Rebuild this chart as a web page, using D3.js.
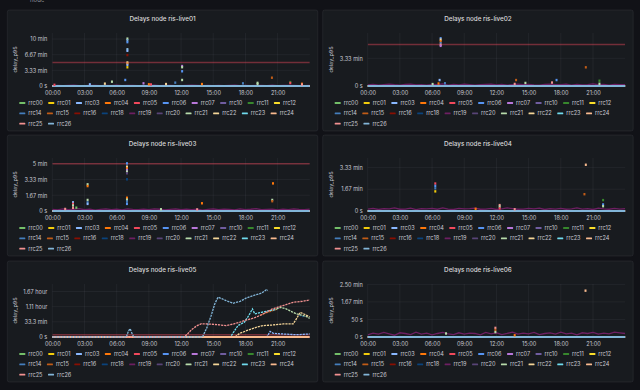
<!DOCTYPE html>
<html>
<head>
<meta charset="utf-8">
<script src="https://cdn.jsdelivr.net/npm/d3@7"></script>
<style>
  html, body { margin: 0; padding: 0; background: #111217; }
  svg { display: block; font-family: Inter, "Noto Sans", sans-serif; }
</style>
</head>
<body>
<div id="dash"></div>
<script>
// Delays (p95) per RRC collector, one Grafana-like panel per ris-live node

var seriesNames = ["rrc00", "rrc01", "rrc03", "rrc04", "rrc05", "rrc06", "rrc07", "rrc10", "rrc11", "rrc12",
  "rrc14", "rrc15", "rrc16", "rrc18", "rrc19", "rrc20", "rrc21", "rrc22", "rrc23", "rrc24", "rrc25", "rrc26"];
var seriesColors = ["#73BF69", "#F2CC0C", "#8AB8FF", "#FF780A", "#F2495C", "#5794F2", "#B877D9", "#705DA0", "#37872D", "#FADE2A",
  "#447EBC", "#C15C17", "#890F02", "#0A437C", "#6D1F62", "#584477", "#B7DBAB", "#F4D598", "#70DBED", "#F9BA8F", "#F29191", "#82B5D8"];

var panelTitles = ["Delays node ris-live01", "Delays node ris-live02", "Delays node ris-live03",
  "Delays node ris-live04", "Delays node ris-live05", "Delays node ris-live06"];

var xTickHours = [0, 3, 6, 9, 12, 15, 18, 21];
var xTickLabels = ["00:00", "03:00", "06:00", "09:00", "12:00", "15:00", "18:00", "21:00"];

// y ticks (seconds) and their labels, per panel
var yTicks1 = [0, 200, 400, 600];
var yTickLabels1 = ["0 s", "3.33 min", "6.67 min", "10 min"];
var yTicks2 = [0, 200];
var yTickLabels2 = ["0 s", "3.33 min"];
var yTicks3 = [0, 100, 200, 300];
var yTickLabels3 = ["0 s", "1.67 min", "3.33 min", "5 min"];
var yTicks4 = [0, 100, 200];
var yTickLabels4 = ["0 s", "1.67 min", "3.33 min"];
var yTicks5 = [0, 2000, 4000, 6000];
var yTickLabels5 = ["0 s", "33.3 min", "1.11 hour", "1.67 hour"];
var yTicks6 = [0, 50, 100, 150];
var yTickLabels6 = ["0 s", "50 s", "1.67 min", "2.50 min"];

// threshold (seconds)
var threshold = 300;

// series that stay at zero all day
var zeroHours = [0, 24];

// rrc19 jitter, every 30 minutes (seconds)
var noise1 = [5, 8, 4, 7, 10, 6, 5, 9, 7, 4, 8, 6, 10, 5, 7, 9, 4, 6, 8, 11, 5, 7, 9, 6, 4, 8, 10, 7, 5, 9, 6, 8, 4, 7, 10, 6, 8, 5, 9, 7, 6, 10, 4, 8, 7, 9, 5, 6, 8];
var noise2 = [8, 12, 6, 10, 14, 9, 7, 11, 13, 8, 10, 6, 12, 9, 15, 7, 11, 8, 13, 10, 6, 9, 12, 14, 8, 11, 7, 10, 13, 9, 12, 8, 6, 11, 14, 10, 9, 13, 7, 12, 8, 10, 15, 9, 11, 7, 12, 10, 9];
var noise3 = [10, 7, 13, 9, 11, 15, 8, 12, 6, 10, 14, 9, 11, 7, 13, 10, 8, 12, 9, 14, 11, 7, 10, 13, 8, 12, 9, 11, 6, 10, 14, 8, 12, 10, 7, 13, 9, 11, 15, 8, 10, 12, 7, 11, 9, 13, 10, 8, 12];
var noise4 = [9, 12, 7, 11, 10, 14, 8, 9, 13, 6, 11, 10, 12, 8, 14, 9, 7, 12, 10, 11, 13, 8, 9, 12, 7, 10, 14, 11, 8, 9, 12, 10, 13, 7, 11, 9, 12, 8, 10, 14, 9, 11, 7, 13, 10, 8, 12, 9, 11];
var noise6 = [6, 11, 8, 13, 9, 5, 12, 10, 7, 14, 8, 11, 6, 10, 13, 9, 7, 12, 8, 11, 10, 6, 13, 9, 12, 7, 10, 14, 8, 11, 9, 13, 7, 10, 12, 8, 14, 9, 11, 6, 12, 10, 13, 8, 11, 9, 14, 12, 10];

// isolated samples: [hour, seconds, collector]
var spikes1 = [[0.2, 15, "rrc05"], [3.5, 21, "rrc03"], [4.9, 30, "rrc22"], [5.56, 55, "rrc21"], [6.8, 77, "rrc06"],
  [7.0, 605, "rrc21"], [7.0, 585, "rrc26"], [7.0, 560, "rrc06"], [7.0, 470, "rrc26"], [7.0, 450, "rrc03"],
  [7.0, 395, "rrc16"], [7.0, 300, "rrc22"], [7.0, 285, "rrc04"], [7.0, 270, "rrc03"], [7.0, 239, "rrc01"],
  [8.5, 34, "rrc07"], [9.0, 22, "rrc04"], [9.2, 20, "rrc05"], [10.6, 25, "rrc22"], [11.46, 43, "rrc14"],
  [12.1, 255, "rrc07"], [12.1, 240, "rrc21"], [12.1, 188, "rrc06"], [12.1, 77, "rrc21"],
  [13.95, 25, "rrc04"], [17.77, 34, "rrc14"], [19.13, 40, "rrc21"], [19.13, 25, "rrc21"], [20.47, 106, "rrc15"],
  [22.18, 50, "rrc11"], [22.18, 38, "rrc05"], [23.27, 28, "rrc04"], [23.27, 18, "rrc25"]];
var spikes2 = [[6.8, 345, "rrc06"], [6.8, 335, "rrc22"], [6.8, 322, "rrc04"], [6.8, 310, "rrc14"], [6.8, 298, "rrc25"],
  [6.8, 290, "rrc07"], [6.7, 43, "rrc03"], [6.6, 18, "rrc04"], [6.05, 14, "rrc21"], [7.2, 20, "rrc14"],
  [13.83, 43, "rrc15"], [13.7, 15, "rrc25"], [14.7, 22, "rrc21"], [17.18, 25, "rrc25"], [17.6, 43, "rrc06"],
  [20.33, 135, "rrc15"], [21.6, 38, "rrc11"], [21.6, 16, "rrc21"]];
var spikes3 = [[1.2, 13, "rrc25"], [1.93, 55, "rrc03"], [1.93, 45, "rrc05"], [1.93, 35, "rrc21"], [1.93, 20, "rrc25"],
  [2.24, 21, "rrc00"], [3.29, 169, "rrc21"], [3.29, 158, "rrc04"], [3.29, 70, "rrc21"], [3.29, 55, "rrc14"],
  [3.29, 45, "rrc03"], [6.96, 302, "rrc06"], [6.96, 281, "rrc22"], [6.96, 270, "rrc04"], [6.96, 260, "rrc07"],
  [6.96, 249, "rrc21"], [6.96, 239, "rrc20"], [6.96, 201, "rrc18"], [6.96, 84, "rrc04"], [6.96, 72, "rrc21"],
  [6.96, 60, "rrc14"], [6.96, 45, "rrc06"], [10.13, 11, "rrc21"], [13.5, 10, "rrc25"], [13.95, 49, "rrc04"],
  [20.57, 175, "rrc04"], [20.5, 70, "rrc21"], [20.5, 62, "rrc15"]];
var spikes4 = [[6.3, 126, "rrc05"], [6.3, 115, "rrc06"], [6.3, 104, "rrc14"], [6.3, 90, "rrc01"],
  [10.06, 10, "rrc04"], [12.3, 27, "rrc25"], [12.3, 20, "rrc21"], [12.3, 12, "rrc05"], [13.7, 8, "rrc25"],
  [20.33, 212, "rrc24"], [20.2, 77, "rrc15"], [21.94, 50, "rrc11"], [21.94, 30, "rrc06"], [21.94, 22, "rrc21"]];
var spikes5 = [];
var spikes6 = [[7.3, 10, "rrc21"], [11.9, 26, "rrc25"], [11.9, 20, "rrc15"], [11.9, 14, "rrc21"],
  [13.7, 5, "rrc04"], [20.3, 132, "rrc24"]];

// ris-live05 collectors that drift away: [hour, seconds]
var p5_rrc03 = [[0, 0], [20.0, 0], [20.3, 740], [20.6, 480], [21.5, 400], [22.75, 300], [24, 400]];
var p5_rrc15 = [[19.4, 2900], [20.0, 3200], [20.6, 3500], [21.0, 3700]];
var p5_rrc18 = [[23.0, 2900], [23.3, 2700], [23.6, 2750]];
var p5_rrc21 = [[20.9, 3700], [21.3, 3900], [21.8, 3700], [22.3, 3350], [22.75, 3050], [23.2, 2900], [23.7, 2690], [24, 2450]];
var p5_rrc22 = [[0, 0], [17.0, 0], [17.47, 480], [18.1, 830], [19.0, 1270], [19.65, 1500], [20.6, 1590],
  [21.5, 1720], [22.45, 1720], [22.8, 2500], [23.1, 3250], [23.5, 3000], [24, 2650]];
var p5_rrc23 = [[0, 0], [16.6, 0], [17.3, 1500], [17.9, 1950], [18.3, 2800], [18.65, 3700], [18.87, 3050],
  [19.5, 3260], [20.3, 3480], [20.9, 3650]];
var p5_rrc25 = [[0, 0], [12.3, 0], [12.6, 400], [13.0, 1000], [13.5, 1500], [13.9, 1750], [14.7, 1700],
  [15.6, 1600], [16.2, 1500], [16.85, 1700], [17.5, 1950], [18.1, 2250], [18.8, 2500], [19.6, 3000],
  [20.5, 3700], [21.5, 4150], [22.45, 4580], [23.4, 4720], [24, 4900]];
var p5_rrc26 = [[0, 0], [6.9, 0], [7.1, 800], [7.25, 1100], [7.45, 400], [7.6, 0], [14.0, 0], [14.4, 1200],
  [14.8, 2800], [15.15, 4400], [15.45, 5250], [15.8, 5050], [16.2, 4800], [16.85, 4450], [17.5, 4700],
  [18.1, 5150], [18.7, 5450], [19.5, 5780], [19.95, 6220], [20.1, 6150]];

// Layout
var width = 640, height = 390;
var colX = [7.3, 322.7];
var rowY = [10, 135, 261];
var panelW = 310.5, panelH = 121;
var plotLeft = 45, plotRight = 302.5, plotTop = 23, plotBottom = 76;

var panels = [
  { ticks: yTicks1, labels: yTickLabels1, yMax: 677, noise: noise1, spikes: spikes1, lines: {} },
  { ticks: yTicks2, labels: yTickLabels2, yMax: 383, noise: noise2, spikes: spikes2, lines: {} },
  { ticks: yTicks3, labels: yTickLabels3, yMax: 336, noise: noise3, spikes: spikes3, lines: {} },
  { ticks: yTicks4, labels: yTickLabels4, yMax: 243, noise: noise4, spikes: spikes4, lines: {} },
  { ticks: yTicks5, labels: yTickLabels5, yMax: 6990, noise: null, spikes: spikes5,
    lines: { rrc03: p5_rrc03, rrc15: p5_rrc15, rrc18: p5_rrc18, rrc21: p5_rrc21, rrc22: p5_rrc22,
             rrc23: p5_rrc23, rrc25: p5_rrc25, rrc26: p5_rrc26 } },
  { ticks: yTicks6, labels: yTickLabels6, yMax: 151, noise: noise6, spikes: spikes6, lines: {} }
];

var color = d3.scaleOrdinal().domain(seriesNames).range(seriesColors);

var svg = d3.select("#dash").append("svg")
  .attr("width", width)
  .attr("height", height);

svg.append("rect").attr("width", width).attr("height", height).attr("fill", "#111217");

// variable label above the panels, mostly scrolled out of view
svg.append("text").attr("x", 30).attr("y", 2)
  .attr("font-size", 6).attr("fill", "#8e9099").text("node");

panels.forEach(function(p, i) {
  var px = colX[i % 2], py = rowY[Math.floor(i / 2)];
  var g = svg.append("g").attr("transform", "translate(" + px + "," + py + ")");

  g.append("rect")
    .attr("width", panelW).attr("height", panelH)
    .attr("rx", 2)
    .attr("fill", "#181b1f")
    .attr("stroke", "rgba(204,204,220,0.08)");

  g.append("text")
    .attr("x", panelW / 2).attr("y", 9)
    .attr("dy", "0.35em")
    .attr("text-anchor", "middle")
    .attr("font-size", 6.3).attr("font-weight", 500)
    .attr("fill", "#d8d9da")
    .text(panelTitles[i]);

  var x = d3.scaleLinear().domain([0, 24]).range([plotLeft, plotRight]);
  var y = d3.scaleLinear().domain([0, p.yMax]).range([plotBottom, plotTop]);

  // grid
  g.append("g").selectAll("line").data(xTickHours).join("line")
    .attr("x1", function(d) { return x(d); }).attr("x2", function(d) { return x(d); })
    .attr("y1", plotTop).attr("y2", plotBottom)
    .attr("stroke", "rgba(204,204,220,0.06)");
  g.append("g").selectAll("line").data(p.ticks).join("line")
    .attr("x1", plotLeft).attr("x2", plotRight)
    .attr("y1", function(d) { return y(d); }).attr("y2", function(d) { return y(d); })
    .attr("stroke", "rgba(204,204,220,0.06)");

  // axes
  var xAxis = d3.axisBottom(x).tickValues(xTickHours)
    .tickFormat(function(d, k) { return xTickLabels[k]; }).tickSize(0).tickPadding(0);
  var xg = g.append("g").attr("transform", "translate(0," + (plotBottom + 7.5) + ")").call(xAxis);
  var yAxis = d3.axisLeft(y).tickValues(p.ticks)
    .tickFormat(function(d, k) { return p.labels[k]; }).tickSize(0).tickPadding(0);
  var yg = g.append("g").attr("transform", "translate(" + 40 + ",0)").call(yAxis);
  [xg, yg].forEach(function(a) {
    a.select(".domain").remove();
    a.selectAll("text").attr("font-size", 5.6).attr("fill", "#c7c8d1")
      .attr("font-family", "Inter, 'Noto Sans', sans-serif");
  });
  xg.selectAll("text").attr("dy", "0.35em").attr("y", 0);

  g.append("text")
    .attr("transform", "translate(8," + ((plotTop + plotBottom) / 2) + ") rotate(-90)")
    .attr("text-anchor", "middle").attr("dy", "0.35em")
    .attr("font-size", 5.4).attr("fill", "#c7c8d1")
    .text("delay_p95");

  var clipId = "clip" + i;
  g.append("clipPath").attr("id", clipId).append("rect")
    .attr("x", plotLeft).attr("y", plotTop - 1.5)
    .attr("width", plotRight - plotLeft).attr("height", plotBottom - plotTop + 3);
  var plot = g.append("g").attr("clip-path", "url(#" + clipId + ")");

  // threshold
  if (threshold < p.yMax) {
    plot.append("line")
      .attr("x1", plotLeft).attr("x2", plotRight)
      .attr("y1", y(threshold)).attr("y2", y(threshold))
      .attr("stroke", "rgba(242,73,92,0.42)").attr("stroke-width", 1.5);
  }

  var line = d3.line()
    .defined(function(d) { return d[1] !== null; })
    .x(function(d) { return x(d[0]); })
    .y(function(d) { return y(d[1]); });

  // jitter band first, so the zero lines sit on top of its lower edge
  var jitterLayer = plot.append("g");
  var lineLayer = plot.append("g");

  seriesNames.forEach(function(name) {
    var data, moving = false, jitter = false;
    if (p.lines[name]) {
      data = p.lines[name];
      moving = true;
    } else if (name === "rrc19" && p.noise) {
      data = p.noise.map(function(v, k) { return [k * 0.5, v]; });
      jitter = true;
    } else {
      data = zeroHours.map(function(h) { return [h, 0]; });
    }
    var path = (jitter ? jitterLayer : lineLayer).append("path")
      .datum(data)
      .attr("d", line)
      .attr("fill", "none")
      .attr("stroke", color(name))
      .attr("stroke-width", moving || jitter ? 1.3 : 2);
    if (moving) path.attr("stroke-dasharray", "2.2,0.9");
  });

  plot.append("g").selectAll("rect").data(p.spikes).join("rect")
    .attr("x", function(d) { return x(d[0]) - 1; })
    .attr("y", function(d) { return y(d[1]) - 1.2; })
    .attr("width", 2).attr("height", 2.4)
    .attr("fill", function(d) { return color(d[2]); });

  // legend, ten entries per row
  var legend = g.append("g");
  var lx = 12, row = -1;
  var rowYs = [93, 103.3, 113.6];
  seriesNames.forEach(function(name, k) {
    if (k % 10 === 0) { row += 1; lx = 12; }
    var item = legend.append("g").attr("transform", "translate(" + lx + "," + rowYs[row] + ")");
    item.append("rect")
      .attr("x", 0).attr("y", -0.9).attr("width", 6).attr("height", 1.8).attr("rx", 0.5)
      .attr("fill", color(name));
    var t = item.append("text")
      .attr("x", 9).attr("dy", "0.35em")
      .attr("font-size", 5.6).attr("fill", "#c7c8d1")
      .text(name);
    lx += 9 + t.node().getComputedTextLength() + 5.5;
  });
});
</script>
</body>
</html>
